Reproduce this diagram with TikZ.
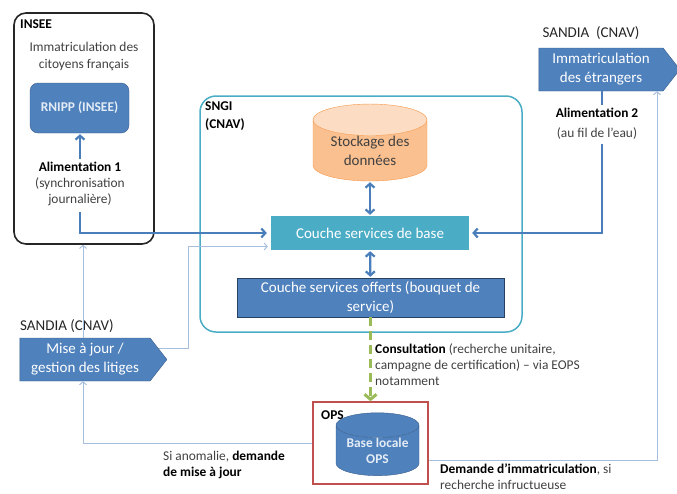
\documentclass[tikz,border=0pt]{standalone}
\usepackage{fontspec}
\setmainfont{Carlito}
\usetikzlibrary{calc,arrows.meta,shapes.geometric,shapes.symbols,positioning}
\definecolor{OBlue}{HTML}{4F81BD}
\definecolor{OBlueDk}{HTML}{385D8A}
\definecolor{OTeal}{HTML}{4BACC6}
\definecolor{OOrange}{HTML}{F79646}
\definecolor{OOrangeLt}{HTML}{FCDCC2}
\definecolor{OOrangeMd}{HTML}{FAC090}
\definecolor{ORed}{HTML}{C0504D}
\definecolor{OGreen}{HTML}{9BBB59}
\definecolor{OLine}{HTML}{A7BFDE}
\definecolor{OArrow}{HTML}{4A7EBB}
\definecolor{OText}{HTML}{404040}
\tikzset{
    zone/.style = {draw, rectangle, rounded corners=12pt, line width=1.6pt, inner sep=0pt},
    block/.style = {rectangle, fill=OBlue, draw=OBlueDk, text=white,
        font=\fontsize{15}{19}\selectfont, align=center, inner sep=0pt},
    sig/.style = {signal, signal to=east, signal pointer angle=104, fill=OBlue,
        draw=OBlueDk, text=white, font=\fontsize{15}{19}\selectfont, align=center, inner sep=0pt},
    db/.style = {cylinder, shape border rotate=90, cylinder uses custom fill, aspect=0.4,
        align=center, inner sep=0pt},
    lbl/.style = {text=OText, font=\fontsize{13.4}{16}\selectfont, inner sep=0pt},
    head/.style = {text=black, font=\fontsize{13.4}{16}\selectfont\bfseries, inner sep=0pt},
    fat/.style = {draw=OArrow, line width=2.2pt, -{Straight Barb[length=4pt,width=9pt]}},
    fatboth/.style = {fat, {Straight Barb[length=4pt,width=9pt]}-{Straight Barb[length=4pt,width=9pt]}},
    slim/.style = {draw=OLine, line width=1pt, -{Straight Barb[length=3pt,width=7pt]}}
}
\newcommand{\bk}[1]{{\color{black}\bfseries #1}}
\begin{document}
\begin{tikzpicture}[x=1pt, y=-1pt]
    \useasboundingbox (0,0) rectangle (677,493);
    \node [zone, draw=black!85, minimum width=140pt, minimum height=231pt] (insee) at (84,128.5) {};
    \node [head, anchor=west] (inseetitle) at (20,24) {INSEE};
    \node [lbl, align=center] (inseetxt) at (84,56.5) {Immatriculation des\\[1pt]citoyens français};
    \node [block, rounded corners=8pt, minimum width=99pt, minimum height=50pt,
        font=\fontsize{13.4}{16}\selectfont\bfseries, text=white!85!OBlue] (rnipp) at (79.5,108) {RNIPP (INSEE)};
    \node [lbl, align=center] (alim1) at (80,184) {\bk{Alimentation 1}\\(synchronisation\\journalière)};

    \node [zone, draw=OTeal, rounded corners=16pt, line width=1.5pt, minimum width=322pt, minimum height=236pt] (sngi) at (361,214) {};
    \node [head, anchor=north west, align=left] (sngititle) at (205,102) {SNGI\\[2pt](CNAV)};
    \node [db, cylinder body fill=OOrangeMd, cylinder end fill=OOrangeLt, draw=OOrange,
        minimum width=114pt, minimum height=73pt, text=OText, font=\fontsize{15}{19}\selectfont] (stock) at (370,150.5) {Stockage des\\données};
    \node [block, fill=OTeal, draw=none, minimum width=198pt, minimum height=34pt] (base) at (370,233) {Couche services de base};
    \node [block, minimum width=267pt, minimum height=39pt, draw=OBlueDk!70!black] (offer) at (370.5,297.5) {Couche services offerts (bouquet de\\service)};

    \node [zone, draw=ORed, rounded corners=0pt, line width=1.5pt, minimum width=115pt, minimum height=82pt] (ops) at (370.5,443) {};
    \node [head, anchor=west] (opstitle) at (321,415) {OPS};
    \node [db, cylinder body fill=OBlue, cylinder end fill=OBlue, draw=OBlueDk,
        minimum width=83pt, minimum height=53pt, text=white!85!OBlue,
        font=\fontsize{13.4}{16}\selectfont\bfseries] (opsdb) at (377.5,450.5) {Base locale\\OPS};

    \node [lbl, text=black!85, font=\fontsize{15}{19}\selectfont] (sandia1) at (591,33) {SANDIA\ \ (CNAV)};
    \node [sig, minimum width=141pt, minimum height=43pt] (immat) at (601,69.5) {Immatriculation\\des étrangers};
    \node [lbl, align=center] (alim2) at (597,124) {\bk{Alimentation\ 2}\\[4pt](au fil de l’eau)};

    \node [lbl, text=black!85, font=\fontsize{15}{19}\selectfont, anchor=west] (sandia2) at (20,326) {SANDIA (CNAV)};
    \node [sig, minimum width=147pt, minimum height=43pt] (maj) at (85,359.5) {Mise à jour /\\gestion des litiges};

    \node [lbl, anchor=north west, align=left] (consult) at (375,343) {\bk{Consultation} (recherche unitaire,\\campagne de certification) – via EOPS\\notamment};
    \node [lbl, anchor=north west, align=left] (anomal) at (163,451) {Si anomalie, \bk{demande}\\\bk{de mise à jour}};
    \node [lbl, anchor=north west, align=left] (demimm) at (440,464) {\bk{Demande d’immatriculation}, si\\recherche infructueuse};

    \draw [fat, shorten <=3pt, shorten >=1pt] (alim1.north) -- (alim1.north |- rnipp.south);
    \draw [fat, shorten <=6pt, shorten >=4pt] (alim1.south) |- (base.west);
    \foreach \a/\b in {stock/base, base/offer}{
        \draw [fatboth, shorten <=1pt, shorten >=1pt] (\a) -- (\b);
    }
    \coordinate (a2) at (602,0);
    \draw [draw=OArrow, line width=2.2pt, shorten >=3pt] (a2 |- immat.south) -- (a2 |- alim2.north);
    \draw [fat, shorten <=4pt, shorten >=3pt] (a2 |- alim2.south) |- (base.east);
    \draw [draw=OGreen, line width=3pt, dash pattern=on 9pt off 5pt,
        -{Straight Barb[length=5pt,width=12pt]}] (offer) -- (ops);

    \coordinate (lx) at (83,0);
    \coordinate (rx) at (657,0);
    \draw [slim] (ops.west) -| (lx |- maj.south);
    \draw [slim] (lx |- maj.north) -- (lx |- insee.south);
    \draw [slim, shorten >=3pt] ([xshift=-8pt,yshift=11.5pt]maj.east) -- ++(29,0) |- ([yshift=-13.5pt]base.west);
    \draw [slim] ([yshift=-17pt]ops.east) -| (rx |- immat.south);
\end{tikzpicture}
\end{document}
